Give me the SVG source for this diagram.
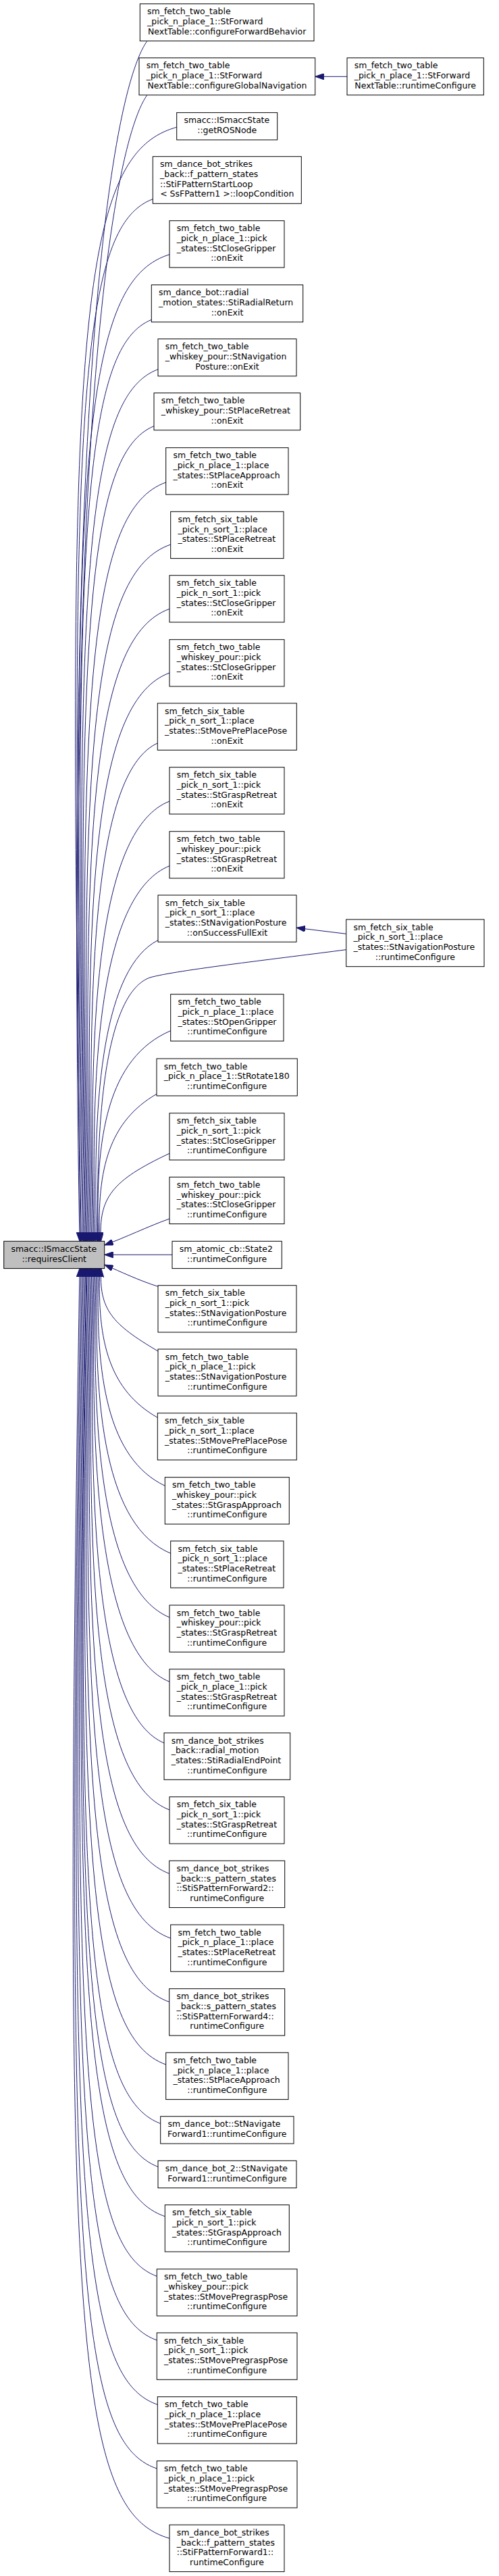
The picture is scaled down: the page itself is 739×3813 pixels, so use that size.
<svg xmlns="http://www.w3.org/2000/svg" width="739" height="3813" viewBox="0 0 739 3813">
<style>
.node rect{fill:#fff;stroke:#000;stroke-width:1}
.node.root rect{fill:#bfbfbf}
text{font-family:"DejaVu Sans","Liberation Sans",sans-serif;font-size:12.5px;fill:#000}
text.c{text-anchor:middle}
.e{fill:none;stroke:#191970;stroke-width:1;marker-end:url(#ah)}
</style>
<defs>
<marker id="ah" markerUnits="userSpaceOnUse" viewBox="0 0 13 9.2" markerWidth="13" markerHeight="9.2" refX="13" refY="4.6" orient="auto">
<path d="M0,0 L13,4.6 L0,9.2 Z" fill="#191970" stroke="#191970" stroke-width="1"/>
</marker>
</defs>
<rect width="739" height="3813" fill="#fff"/>
<g id="edges">
<path class="e" d="M514,113.3 L466.7,113.3"/>
<path class="e" d="M512.7,1382.3 L439,1373.3"/>
<path class="e" d="M512.7,1405.7 C420,1418 260,1436 222,1447 C180,1462 140,1550 144.9,1837.3"/>
<path class="e" d="M218,60.7 C188,100.7 92,360.7 118,1837.3"/>
<path class="e" d="M218,140.7 C188,180.7 94.6,440.7 119.5,1837.3"/>
<path class="e" d="M261.7,188.3 C116.1,228.3 96.1,488.3 120.4,1837.3"/>
<path class="e" d="M226.3,294.7 C119.6,334.7 99.6,594.7 122.5,1837.3"/>
<path class="e" d="M251,376.7 C122.3,416.7 102.3,676.7 124,1837.3"/>
<path class="e" d="M224.3,473.3 C125.5,513.3 105.5,773.3 125.9,1837.3"/>
<path class="e" d="M234,546.7 C127.9,586.7 107.9,846.7 127.3,1837.3"/>
<path class="e" d="M228,630.7 C130.6,670.7 110.6,930.7 128.9,1837.3"/>
<path class="e" d="M245.7,714 C133.3,754 113.3,1014 130.5,1837.3"/>
<path class="e" d="M252.7,806 C136.3,846 116.3,1106 132.3,1837.3"/>
<path class="e" d="M251,901.3 C139.4,941.3 119.4,1201.3 134.1,1837.3"/>
<path class="e" d="M251,996 C142.5,1036 122.5,1296 135.9,1837.3"/>
<path class="e" d="M233.3,1100 C145.9,1140 125.9,1400 137.9,1837.3"/>
<path class="e" d="M251,1186 C148.7,1226 128.7,1486 139.5,1837.3"/>
<path class="e" d="M251,1281.7 C151.9,1321.7 131.9,1559.5 141.4,1837.3"/>
<path class="e" d="M234,1391.7 C155.4,1431.7 135.4,1614.5 143.5,1837.3"/>
<path class="e" d="M252.7,1525.7 C159.8,1565.7 139.8,1681.5 146,1837.3"/>
<path class="e" d="M232,1619.3 C162.9,1659.3 142.9,1728.3 147.8,1837.3"/>
<path class="e" d="M251,1707.3 C165.8,1747.3 145.8,1772.3 149.5,1837.3"/>
<path class="e" d="M251,1804 C220,1815 185,1832 154.7,1843"/>
<path class="e" d="M255,1857.3 L154.7,1857.3"/>
<path class="e" d="M234,1904.3 C205,1895 180,1883 154.7,1872"/>
<path class="e" d="M234,2000 C166.2,1960 146.2,1938.7 149.8,1877.3"/>
<path class="e" d="M233.3,2098.3 C163.2,2058.3 143.2,1987.8 148,1877.3"/>
<path class="e" d="M244.3,2199.3 C160.1,2159.3 140.1,2038.3 146.2,1877.3"/>
<path class="e" d="M252.7,2299.3 C157,2259.3 137,2088.3 144.4,1877.3"/>
<path class="e" d="M251,2394 C154.1,2354 134.1,2135.7 142.7,1877.3"/>
<path class="e" d="M251,2489.3 C151.1,2449.3 131.1,2189.3 140.9,1877.3"/>
<path class="e" d="M243,2580 C148.3,2540 128.3,2280 139.3,1877.3"/>
<path class="e" d="M251,2679 C145.3,2639 125.3,2379 137.5,1877.3"/>
<path class="e" d="M250.7,2773.3 C142.4,2733.3 122.4,2473.3 135.8,1877.3"/>
<path class="e" d="M252.7,2869 C139.4,2829 119.4,2569 134.1,1877.3"/>
<path class="e" d="M250.7,2963.3 C136.5,2923.3 116.5,2663.3 132.4,1877.3"/>
<path class="e" d="M245.7,3056 C133.6,3016 113.6,2756 130.7,1877.3"/>
<path class="e" d="M237.7,3143.3 C130.9,3103.3 110.9,2843.3 129.1,1877.3"/>
<path class="e" d="M234,3207.3 C129,3167.3 109,2907.3 128,1877.3"/>
<path class="e" d="M244.3,3280.7 C126.7,3240.7 106.7,2980.7 126.6,1877.3"/>
<path class="e" d="M232.3,3369.3 C124,3329.3 104,3069.3 125,1877.3"/>
<path class="e" d="M232.3,3464 C121,3424 101,3164 123.3,1877.3"/>
<path class="e" d="M233.3,3559.3 C118.1,3519.3 98.1,3259.3 121.6,1877.3"/>
<path class="e" d="M232.3,3654 C115.2,3614 95.2,3354 119.9,1877.3"/>
<path class="e" d="M251,3757.3 C112,3717.3 92,3457.3 118,1877.3"/>
</g>
<g id="n_requiresClient" class="node root"><rect x="5.7" y="1837.3" width="149" height="40.3"/><text x="16.4" y="1853">smacc::ISmaccState</text><text class="c" x="80.2" y="1867.7">::requiresClient</text></g>
<g id="n01" class="node"><rect x="207.3" y="5.7" width="257.7" height="55"/><text x="218" y="21.4">sm_fetch_two_table</text><text x="218" y="36.1">_pick_n_place_1::StForward</text><text class="c" x="336.2" y="50.7">NextTable::configureForwardBehavior</text></g>
<g id="n02" class="node"><rect x="206" y="85.7" width="260.7" height="55"/><text x="216.7" y="101.4">sm_fetch_two_table</text><text x="216.7" y="116.1">_pick_n_place_1::StForward</text><text class="c" x="336.4" y="130.7">NextTable::configureGlobalNavigation</text></g>
<g id="r01" class="node"><rect x="514" y="85.7" width="202.3" height="55"/><text x="524.7" y="101.4">sm_fetch_two_table</text><text x="524.7" y="116.1">_pick_n_place_1::StForward</text><text class="c" x="615.2" y="130.7">NextTable::runtimeConfigure</text></g>
<g id="n03" class="node"><rect x="261.7" y="166.7" width="149" height="40.3"/><text x="272.4" y="182.4">smacc::ISmaccState</text><text class="c" x="336.2" y="197.1">::getROSNode</text></g>
<g id="n04" class="node"><rect x="226.3" y="231.7" width="220" height="69.6"/><text x="237" y="247.4">sm_dance_bot_strikes</text><text x="237" y="262.1">_back::f_pattern_states</text><text x="237" y="276.7">::StiFPatternStartLoop</text><text class="c" x="336.3" y="291.4">&lt; SsFPattern1 &gt;::loopCondition</text></g>
<g id="n05" class="node"><rect x="251" y="326.7" width="170" height="69.3"/><text x="261.7" y="342.4">sm_fetch_two_table</text><text x="261.7" y="357.1">_pick_n_place_1::pick</text><text x="261.7" y="371.7">_states::StCloseGripper</text><text class="c" x="336" y="386.4">::onExit</text></g>
<g id="n06" class="node"><rect x="224.3" y="421.7" width="224.4" height="55"/><text x="235" y="437.4">sm_dance_bot::radial</text><text x="235" y="452.1">_motion_states::StiRadialReturn</text><text class="c" x="336.5" y="466.7">::onExit</text></g>
<g id="n07" class="node"><rect x="234" y="501.7" width="205" height="55"/><text x="244.7" y="517.4">sm_fetch_two_table</text><text x="244.7" y="532.1">_whiskey_pour::StNavigation</text><text class="c" x="336.5" y="546.7">Posture::onExit</text></g>
<g id="n08" class="node"><rect x="228" y="581.7" width="216.7" height="55"/><text x="238.7" y="597.4">sm_fetch_two_table</text><text x="238.7" y="612.1">_whiskey_pour::StPlaceRetreat</text><text class="c" x="336.35" y="626.7">::onExit</text></g>
<g id="n09" class="node"><rect x="245.7" y="662.7" width="181.3" height="69.3"/><text x="256.4" y="678.4">sm_fetch_two_table</text><text x="256.4" y="693.1">_pick_n_place_1::place</text><text x="256.4" y="707.7">_states::StPlaceApproach</text><text class="c" x="336.35" y="722.4">::onExit</text></g>
<g id="n10" class="node"><rect x="252.7" y="757.3" width="167.3" height="69.3"/><text x="263.4" y="773">sm_fetch_six_table</text><text x="263.4" y="787.7">_pick_n_sort_1::place</text><text x="263.4" y="802.3">_states::StPlaceRetreat</text><text class="c" x="336.35" y="817">::onExit</text></g>
<g id="n11" class="node"><rect x="251" y="851.7" width="170" height="69.3"/><text x="261.7" y="867.4">sm_fetch_six_table</text><text x="261.7" y="882.1">_pick_n_sort_1::pick</text><text x="261.7" y="896.7">_states::StCloseGripper</text><text class="c" x="336" y="911.4">::onExit</text></g>
<g id="n12" class="node"><rect x="251" y="946.7" width="170" height="69.3"/><text x="261.7" y="962.4">sm_fetch_two_table</text><text x="261.7" y="977.1">_whiskey_pour::pick</text><text x="261.7" y="991.7">_states::StCloseGripper</text><text class="c" x="336" y="1006.4">::onExit</text></g>
<g id="n13" class="node"><rect x="233.3" y="1041" width="206" height="69.3"/><text x="244" y="1056.7">sm_fetch_six_table</text><text x="244" y="1071.4">_pick_n_sort_1::place</text><text x="244" y="1086">_states::StMovePrePlacePose</text><text class="c" x="336.3" y="1100.7">::onExit</text></g>
<g id="n14" class="node"><rect x="251" y="1135.7" width="170" height="69.3"/><text x="261.7" y="1151.4">sm_fetch_six_table</text><text x="261.7" y="1166.1">_pick_n_sort_1::pick</text><text x="261.7" y="1180.7">_states::StGraspRetreat</text><text class="c" x="336" y="1195.4">::onExit</text></g>
<g id="n15" class="node"><rect x="251" y="1230.7" width="170" height="69.3"/><text x="261.7" y="1246.4">sm_fetch_two_table</text><text x="261.7" y="1261.1">_whiskey_pour::pick</text><text x="261.7" y="1275.7">_states::StGraspRetreat</text><text class="c" x="336" y="1290.4">::onExit</text></g>
<g id="n16" class="node"><rect x="234" y="1325" width="205" height="69.3"/><text x="244.7" y="1340.7">sm_fetch_six_table</text><text x="244.7" y="1355.4">_pick_n_sort_1::place</text><text x="244.7" y="1370">_states::StNavigationPosture</text><text class="c" x="336.5" y="1384.7">::onSuccessFullExit</text></g>
<g id="r02" class="node"><rect x="512.7" y="1361" width="204.3" height="69.7"/><text x="523.4" y="1376.7">sm_fetch_six_table</text><text x="523.4" y="1391.4">_pick_n_sort_1::place</text><text x="523.4" y="1406">_states::StNavigationPosture</text><text class="c" x="614.85" y="1420.7">::runtimeConfigure</text></g>
<g id="n17" class="node"><rect x="252.7" y="1471.7" width="167.3" height="69.3"/><text x="263.4" y="1487.4">sm_fetch_two_table</text><text x="263.4" y="1502.1">_pick_n_place_1::place</text><text x="263.4" y="1516.7">_states::StOpenGripper</text><text class="c" x="336.35" y="1531.4">::runtimeConfigure</text></g>
<g id="n18" class="node"><rect x="232" y="1567" width="208.3" height="55"/><text x="242.7" y="1582.7">sm_fetch_two_table</text><text x="242.7" y="1597.4">_pick_n_place_1::StRotate180</text><text class="c" x="336.15" y="1612">::runtimeConfigure</text></g>
<g id="n19" class="node"><rect x="251" y="1647.7" width="170" height="69.3"/><text x="261.7" y="1663.4">sm_fetch_six_table</text><text x="261.7" y="1678.1">_pick_n_sort_1::pick</text><text x="261.7" y="1692.7">_states::StCloseGripper</text><text class="c" x="336" y="1707.4">::runtimeConfigure</text></g>
<g id="n20" class="node"><rect x="251" y="1742.3" width="170" height="69.3"/><text x="261.7" y="1758">sm_fetch_two_table</text><text x="261.7" y="1772.7">_whiskey_pour::pick</text><text x="261.7" y="1787.3">_states::StCloseGripper</text><text class="c" x="336" y="1802">::runtimeConfigure</text></g>
<g id="n21" class="node"><rect x="255" y="1837.3" width="162.3" height="40.3"/><text x="265.7" y="1853">sm_atomic_cb::State2</text><text class="c" x="336.15" y="1867.7">::runtimeConfigure</text></g>
<g id="n22" class="node"><rect x="234" y="1902.7" width="205" height="69.3"/><text x="244.7" y="1918.4">sm_fetch_six_table</text><text x="244.7" y="1933.1">_pick_n_sort_1::pick</text><text x="244.7" y="1947.7">_states::StNavigationPosture</text><text class="c" x="336.5" y="1962.4">::runtimeConfigure</text></g>
<g id="n23" class="node"><rect x="234" y="1997" width="205" height="69.3"/><text x="244.7" y="2012.7">sm_fetch_two_table</text><text x="244.7" y="2027.4">_pick_n_place_1::pick</text><text x="244.7" y="2042">_states::StNavigationPosture</text><text class="c" x="336.5" y="2056.7">::runtimeConfigure</text></g>
<g id="n24" class="node"><rect x="233.3" y="2091.7" width="206" height="69.3"/><text x="244" y="2107.4">sm_fetch_six_table</text><text x="244" y="2122.1">_pick_n_sort_1::place</text><text x="244" y="2136.7">_states::StMovePrePlacePose</text><text class="c" x="336.3" y="2151.4">::runtimeConfigure</text></g>
<g id="n25" class="node"><rect x="244.3" y="2186.7" width="184" height="69.3"/><text x="255" y="2202.4">sm_fetch_two_table</text><text x="255" y="2217.1">_whiskey_pour::pick</text><text x="255" y="2231.7">_states::StGraspApproach</text><text class="c" x="336.3" y="2246.4">::runtimeConfigure</text></g>
<g id="n26" class="node"><rect x="252.7" y="2281" width="167.3" height="69.3"/><text x="263.4" y="2296.7">sm_fetch_six_table</text><text x="263.4" y="2311.4">_pick_n_sort_1::place</text><text x="263.4" y="2326">_states::StPlaceRetreat</text><text class="c" x="336.35" y="2340.7">::runtimeConfigure</text></g>
<g id="n27" class="node"><rect x="251" y="2376" width="170" height="69.3"/><text x="261.7" y="2391.7">sm_fetch_two_table</text><text x="261.7" y="2406.4">_whiskey_pour::pick</text><text x="261.7" y="2421">_states::StGraspRetreat</text><text class="c" x="336" y="2435.7">::runtimeConfigure</text></g>
<g id="n28" class="node"><rect x="251" y="2470.7" width="170" height="69.3"/><text x="261.7" y="2486.4">sm_fetch_two_table</text><text x="261.7" y="2501.1">_pick_n_place_1::pick</text><text x="261.7" y="2515.7">_states::StGraspRetreat</text><text class="c" x="336" y="2530.4">::runtimeConfigure</text></g>
<g id="n29" class="node"><rect x="243" y="2565" width="186.7" height="69.3"/><text x="253.7" y="2580.7">sm_dance_bot_strikes</text><text x="253.7" y="2595.4">_back::radial_motion</text><text x="253.7" y="2610">_states::StiRadialEndPoint</text><text class="c" x="336.35" y="2624.7">::runtimeConfigure</text></g>
<g id="n30" class="node"><rect x="251" y="2659.7" width="170" height="69.3"/><text x="261.7" y="2675.4">sm_fetch_six_table</text><text x="261.7" y="2690.1">_pick_n_sort_1::pick</text><text x="261.7" y="2704.7">_states::StGraspRetreat</text><text class="c" x="336" y="2719.4">::runtimeConfigure</text></g>
<g id="n31" class="node"><rect x="250.7" y="2754.3" width="171" height="69.3"/><text x="261.4" y="2770">sm_dance_bot_strikes</text><text x="261.4" y="2784.7">_back::s_pattern_states</text><text x="261.4" y="2799.3">::StiSPatternForward2::</text><text class="c" x="336.2" y="2814">runtimeConfigure</text></g>
<g id="n32" class="node"><rect x="252.7" y="2849" width="167.3" height="69.3"/><text x="263.4" y="2864.7">sm_fetch_two_table</text><text x="263.4" y="2879.4">_pick_n_place_1::place</text><text x="263.4" y="2894">_states::StPlaceRetreat</text><text class="c" x="336.35" y="2908.7">::runtimeConfigure</text></g>
<g id="n33" class="node"><rect x="250.7" y="2943.7" width="171" height="69.3"/><text x="261.4" y="2959.4">sm_dance_bot_strikes</text><text x="261.4" y="2974.1">_back::s_pattern_states</text><text x="261.4" y="2988.7">::StiSPatternForward4::</text><text class="c" x="336.2" y="3003.4">runtimeConfigure</text></g>
<g id="n34" class="node"><rect x="245.7" y="3038.3" width="181.3" height="69.3"/><text x="256.4" y="3054">sm_fetch_two_table</text><text x="256.4" y="3068.7">_pick_n_place_1::place</text><text x="256.4" y="3083.3">_states::StPlaceApproach</text><text class="c" x="336.35" y="3098">::runtimeConfigure</text></g>
<g id="n35" class="node"><rect x="237.7" y="3132.7" width="197.3" height="40.3"/><text x="248.4" y="3148.4">sm_dance_bot::StNavigate</text><text class="c" x="336.35" y="3163.1">Forward1::runtimeConfigure</text></g>
<g id="n36" class="node"><rect x="234" y="3198.3" width="205" height="40.3"/><text x="244.7" y="3214">sm_dance_bot_2::StNavigate</text><text class="c" x="336.5" y="3228.7">Forward1::runtimeConfigure</text></g>
<g id="n37" class="node"><rect x="244.3" y="3263.7" width="184" height="69.3"/><text x="255" y="3279.4">sm_fetch_six_table</text><text x="255" y="3294.1">_pick_n_sort_1::pick</text><text x="255" y="3308.7">_states::StGraspApproach</text><text class="c" x="336.3" y="3323.4">::runtimeConfigure</text></g>
<g id="n38" class="node"><rect x="232.3" y="3358.7" width="207.7" height="69.3"/><text x="243" y="3374.4">sm_fetch_two_table</text><text x="243" y="3389.1">_whiskey_pour::pick</text><text x="243" y="3403.7">_states::StMovePregraspPose</text><text class="c" x="336.15" y="3418.4">::runtimeConfigure</text></g>
<g id="n39" class="node"><rect x="232.3" y="3453" width="207.7" height="69.3"/><text x="243" y="3468.7">sm_fetch_six_table</text><text x="243" y="3483.4">_pick_n_sort_1::pick</text><text x="243" y="3498">_states::StMovePregraspPose</text><text class="c" x="336.15" y="3512.7">::runtimeConfigure</text></g>
<g id="n40" class="node"><rect x="233.3" y="3547.7" width="206" height="69.3"/><text x="244" y="3563.4">sm_fetch_two_table</text><text x="244" y="3578.1">_pick_n_place_1::place</text><text x="244" y="3592.7">_states::StMovePrePlacePose</text><text class="c" x="336.3" y="3607.4">::runtimeConfigure</text></g>
<g id="n41" class="node"><rect x="232.3" y="3642.7" width="207.7" height="69.3"/><text x="243" y="3658.4">sm_fetch_two_table</text><text x="243" y="3673.1">_pick_n_place_1::pick</text><text x="243" y="3687.7">_states::StMovePregraspPose</text><text class="c" x="336.15" y="3702.4">::runtimeConfigure</text></g>
<g id="n42" class="node"><rect x="251" y="3737.3" width="170" height="69.3"/><text x="261.7" y="3753">sm_dance_bot_strikes</text><text x="261.7" y="3767.7">_back::f_pattern_states</text><text x="261.7" y="3782.3">::StiFPatternForward1::</text><text class="c" x="336" y="3797">runtimeConfigure</text></g>
</svg>
